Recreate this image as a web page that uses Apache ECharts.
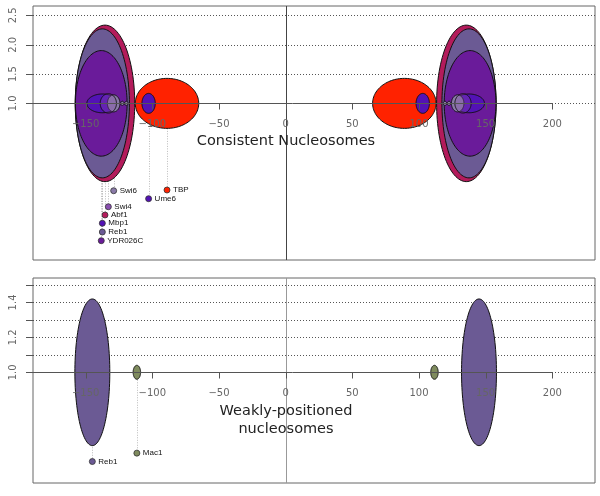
<!DOCTYPE html>
<html><head><meta charset="utf-8">
<script src="https://cdn.jsdelivr.net/npm/echarts@6/dist/echarts.min.js"></script>
<style>html,body{margin:0;padding:0;background:#fff}#c{width:600px;height:496px}</style>
</head><body><div id="c"></div><script>
// ---------------- data ----------------
const xTicks = [-150, -100, -50, 0, 50, 100, 150, 200];
const xTickLabels = ['\u2212150', '\u2212100', '\u221250', '0', '50', '100', '150', '200'];
const topYTicks = [1.0, 1.5, 2.0, 2.5];
const topYLabels = ['1.0', '1.5', '2.0', '2.5'];
const botYTicks = [1.0, 1.1, 1.2, 1.3, 1.4, 1.5];
const botYLabelVals = [1.0, 1.2, 1.4];
const botYLabels = ['1.0', '1.2', '1.4'];

// Consistent nucleosomes (mirrored about 0)
const topFactors = ['Abf1', 'Reb1', 'YDR026C', 'TBP', 'Ume6', 'Mbp1', 'Swi6', 'Swi4'];
const topCenter = [135.5, 137.5, 138.3, 89, 102.8, 137.5, 129, 133];
const topHalfWidth = [22.3, 20.3, 19.4, 23.8, 5.0, 11.6, 4.7, 6.1];
const topHalfHeight = [1.334, 1.27, 0.90, 0.426, 0.17, 0.16, 0.145, 0.165];
const topColors = ['#b31b5b', '#6b5a94', '#6a1b9a', '#ff2200', '#5312b5', '#5312b5', '#8a7aa8', '#8a4fb0'];
const topLabelY = [-0.903, -1.193, -1.341, -0.477, -0.625, -1.044, -0.489, -0.762];
const topMinorCenter = [119.5, 122.5];
const topMinorHalfWidth = [1.3, 1.3];
const topMinorHalfHeight = [0.035, 0.035];

// Weakly-positioned nucleosomes
const botFactors = ['Reb1', 'Mac1'];
const botCenter = [145, 111.6];
const botHalfWidth = [13.1, 2.8];
const botHalfHeight = [0.42, 0.04];
const botColors = ['#6b5a94', '#7f8b5e'];
const botLabelY = [0.489, 0.537];

// ---------------- layout ----------------
const X_MIN = -189.5, X_MAX = 232;
const Y_EXT = [[-1.67, 2.66], [0.366, 1.54]];
const FONT = 'DejaVu Sans';

function ellipsePts(api, cx, cy, rx, ry) {
  const pts = [];
  const n = 120;
  for (let k = 0; k < n; k++) {
    const t = k / n * 2 * Math.PI;
    pts.push(api.coord([cx + rx * Math.cos(t), cy + ry * Math.sin(t)]));
  }
  return pts;
}

function panelDef(p) {
  if (p === 0) return {
    names: topFactors, c: topCenter, hw: topHalfWidth, hh: topHalfHeight, col: topColors, ly: topLabelY,
    minor: topMinorCenter.map((c, i) => ({c, hw: topMinorHalfWidth[i], hh: topMinorHalfHeight[i]})),
    yTicks: topYTicks, yLabVals: topYTicks, yLabs: topYLabels, zeroColor: '#444'
  };
  return {
    names: botFactors, c: botCenter, hw: botHalfWidth, hh: botHalfHeight, col: botColors, ly: botLabelY,
    minor: [], yTicks: botYTicks, yLabVals: botYLabelVals, yLabs: botYLabels, zeroColor: '#999'
  };
}

function bgRender(p) {
  const d = panelDef(p);
  return function (params, api) {
    const ch = [];
    d.yTicks.forEach(v => {
      const a = api.coord([X_MIN, v]), b = api.coord([X_MAX, v]);
      const y = Math.round(a[1]) + 0.5;
      ch.push({type: 'line', shape: {x1: a[0], y1: y, x2: b[0], y2: y},
        style: {stroke: '#555', lineWidth: 1, lineDash: [1, 2]}});
      ch.push({type: 'line', shape: {x1: a[0] - 7, y1: y, x2: a[0], y2: y},
        style: {stroke: '#555', lineWidth: 1}});
    });
    d.yLabVals.forEach((v, i) => {
      const a = api.coord([X_MIN, v]);
      ch.push({type: 'text', x: 13.5, y: a[1], rotation: Math.PI / 2,
        style: {text: d.yLabs[i], fill: '#666', font: '10px ' + FONT, align: 'center', verticalAlign: 'middle'}});
    });
    const z0 = api.coord([0, Y_EXT[p][0]]), z1 = api.coord([0, Y_EXT[p][1]]);
    const zx = Math.round(z0[0]) + 0.5;
    ch.push({type: 'line', shape: {x1: zx, y1: z0[1], x2: zx, y2: z1[1]},
      style: {stroke: d.zeroColor, lineWidth: 1}});
    // connectors to labels
    d.names.forEach((nm, i) => {
      const a = api.coord([-d.c[i], 1]), b = api.coord([-d.c[i], d.ly[i]]);
      const x = Math.round(a[0]) + 0.5;
      ch.push({type: 'line', shape: {x1: x, y1: a[1], x2: x, y2: b[1]},
        style: {stroke: '#bbb', lineWidth: 1, lineDash: [1, 1.5]}});
    });
    return {type: 'group', children: ch};
  };
}

function ellipseItems(p) {
  const d = panelDef(p);
  const items = [];
  d.names.forEach((nm, i) => {
    [-1, 1].forEach(s => items.push({cx: s * d.c[i], rx: d.hw[i], ry: d.hh[i], fill: d.col[i],
      op: nm === 'Swi4' ? 0.3 : 1}));
  });
  d.minor.forEach(m => {
    [-1, 1].forEach(s => items.push({cx: s * m.c, rx: m.hw, ry: m.hh, fill: '#8a7aa8', op: 1}));
  });
  return items;
}

function ellRender(items) {
  return function (params, api) {
    const it = items[params.dataIndex];
    return {type: 'polygon', shape: {points: ellipsePts(api, it.cx, 1, it.rx, it.ry)},
      style: {fill: it.fill, fillOpacity: it.op, stroke: '#111', lineWidth: 1}};
  };
}

function fgRender(p) {
  const d = panelDef(p);
  return function (params, api) {
    const ch = [];
    const a = api.coord([X_MIN, 1]), b = api.coord([200, 1]);
    const y = Math.round(a[1]) + 0.5;
    ch.push({type: 'line', shape: {x1: a[0], y1: y, x2: b[0], y2: y}, style: {stroke: '#555', lineWidth: 1}});
    xTicks.forEach((v, i) => {
      const c = api.coord([v, 1]);
      const x = Math.round(c[0]) + 0.5;
      ch.push({type: 'line', shape: {x1: x, y1: y, x2: x, y2: y + 6}, style: {stroke: '#555', lineWidth: 1}});
      ch.push({type: 'text', x: c[0], y: y + 21,
        style: {text: xTickLabels[i], fill: '#666', font: '10px ' + FONT, align: 'center', verticalAlign: 'middle'}});
    });
    d.names.forEach((nm, i) => {
      const c = api.coord([-d.c[i], d.ly[i]]);
      ch.push({type: 'circle', shape: {cx: c[0], cy: c[1], r: 3},
        style: {fill: d.col[i], stroke: '#333', lineWidth: 0.8}});
      ch.push({type: 'text', x: c[0] + 6, y: c[1],
        style: {text: nm, fill: '#111', font: '8px "Liberation Sans"', align: 'left', verticalAlign: 'middle'}});
    });
    return {type: 'group', children: ch};
  };
}

const topItems = ellipseItems(0), botItems = ellipseItems(1);

const option = {
  animation: false,
  backgroundColor: '#fff',
  title: [
    {text: 'Consistent Nucleosomes', left: 286, top: 133, textAlign: 'center', padding: 0,
      textStyle: {fontFamily: FONT, fontSize: 14.5, fontWeight: 'normal', color: '#222', lineHeight: 17}},
    {text: 'Weakly-positioned\nnucleosomes', left: 286, top: 402, textAlign: 'center', padding: 0,
      textStyle: {fontFamily: FONT, fontSize: 14.5, fontWeight: 'normal', color: '#222', lineHeight: 18}}
  ],
  grid: [
    {left: 33, top: 6, width: 562, height: 254, show: true, borderColor: '#666', borderWidth: 1, backgroundColor: 'transparent'},
    {left: 33, top: 278, width: 562, height: 205, show: true, borderColor: '#666', borderWidth: 1, backgroundColor: 'transparent'}
  ],
  xAxis: [
    {gridIndex: 0, type: 'value', min: X_MIN, max: X_MAX, show: false},
    {gridIndex: 1, type: 'value', min: X_MIN, max: X_MAX, show: false}
  ],
  yAxis: [
    {gridIndex: 0, type: 'value', min: Y_EXT[0][0], max: Y_EXT[0][1], show: false},
    {gridIndex: 1, type: 'value', min: Y_EXT[1][0], max: Y_EXT[1][1], show: false}
  ],
  series: [
    {type: 'custom', xAxisIndex: 0, yAxisIndex: 0, z: 1, silent: true, data: [[0, 1]], renderItem: bgRender(0)},
    {type: 'custom', xAxisIndex: 1, yAxisIndex: 1, z: 1, silent: true, data: [[0, 1]], renderItem: bgRender(1)},
    {type: 'custom', xAxisIndex: 0, yAxisIndex: 0, z: 2, silent: true,
      data: topItems.map(it => [it.cx, 1]), renderItem: ellRender(topItems)},
    {type: 'custom', xAxisIndex: 1, yAxisIndex: 1, z: 2, silent: true,
      data: botItems.map(it => [it.cx, 1]), renderItem: ellRender(botItems)},
    {type: 'custom', xAxisIndex: 0, yAxisIndex: 0, z: 3, silent: true, data: [[0, 1]], renderItem: fgRender(0)},
    {type: 'custom', xAxisIndex: 1, yAxisIndex: 1, z: 3, silent: true, data: [[0, 1]], renderItem: fgRender(1)}
  ]
};
const chart = echarts.init(document.getElementById('c'));
chart.setOption(option);
</script></body></html>
